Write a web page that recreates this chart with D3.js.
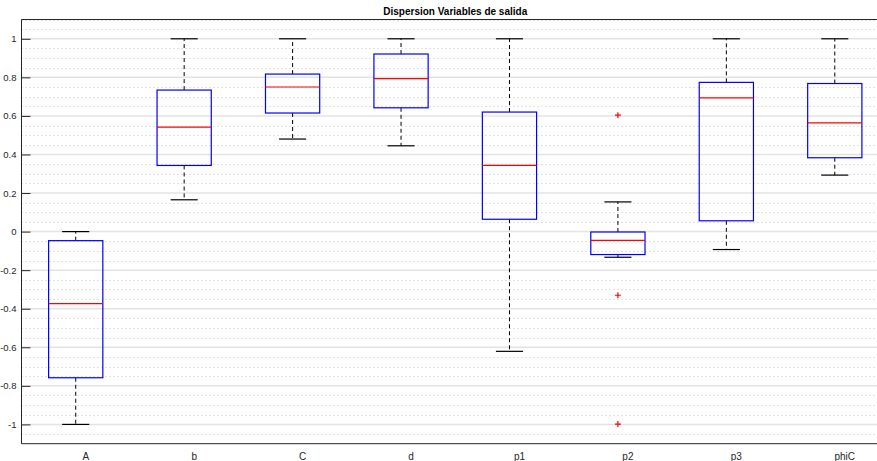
<!DOCTYPE html>
<html><head><meta charset="utf-8">
<script src="https://cdn.jsdelivr.net/npm/d3@7"></script>
<style>body{margin:0;background:#fff}svg{display:block}</style>
</head><body><svg id="c" width="877" height="461"></svg>
<script>
const categories = ["A","b","C","d","p1","p2","p3","phiC"];
const whiskerLow  = [-1.0, 0.165, 0.480, 0.445, -0.621, -0.133, -0.093, 0.293];
const q1          = [-0.758, 0.343, 0.615, 0.642, 0.064, -0.119, 0.056, 0.383];
const median      = [-0.374, 0.542, 0.750, 0.793, 0.343, -0.045, 0.694, 0.564];
const q3          = [-0.047, 0.734, 0.817, 0.921, 0.620, -0.002, 0.774, 0.768];
const whiskerHigh = [0.0, 1.0, 1.0, 1.0, 1.0, 0.154, 1.0, 1.0];
const outliers    = [[], [], [], [], [], [0.604, -0.330, -0.998], [], []];
const yTicks = [-1,-0.8,-0.6,-0.4,-0.2,0,0.2,0.4,0.6,0.8,1];
const yTickLabels = ["-1","-0.8","-0.6","-0.4","-0.2","0","0.2","0.4","0.6","0.8","1"];
const title = "Dispersion Variables de salida";

const svg = d3.select("#c");
const pLeft = 21.5, pRight = 889, pTop = 19.5, pBottom = 443.7;
const x = d3.scaleLinear().domain([0.5, 8.5]).range([pLeft, pRight]);
const y = d3.scaleLinear().domain([-1.1, 1.1]).range([pBottom, pTop]);
const font = "'Liberation Sans', Arial, Helvetica, sans-serif";

// minor dotted grid
const minor = d3.range(-1.05, 1.1, 0.05).map(v => +v.toFixed(2)).filter(v => Math.abs(Math.round(v*5) - v*5) > 1e-6);
svg.append("g").selectAll("line").data(minor).join("line")
  .attr("x1", pLeft).attr("x2", pRight)
  .attr("y1", d => Math.round(y(d)) + 0.5).attr("y2", d => Math.round(y(d)) + 0.5)
  .attr("stroke", "#c4c4c4").attr("stroke-width", 1).attr("stroke-dasharray", "1,3");
// major grid
svg.append("g").selectAll("line").data(yTicks).join("line")
  .attr("x1", pLeft).attr("x2", pRight)
  .attr("y1", d => y(d)).attr("y2", d => y(d))
  .attr("stroke", "#e3e3e3").attr("stroke-width", 1.5);

// axes frame
svg.append("line").attr("x1", pLeft).attr("x2", pRight).attr("y1", pTop).attr("y2", pTop).attr("stroke", "#262626").attr("stroke-width", 1);
svg.append("line").attr("x1", pLeft).attr("x2", pRight).attr("y1", pBottom).attr("y2", pBottom).attr("stroke", "#262626").attr("stroke-width", 1);

// y axis via d3.axisLeft
const yAxis = d3.axisLeft(y).tickValues(yTicks).tickFormat((d,i) => yTickLabels[i]).tickSizeInner(-9).tickSizeOuter(0).tickPadding(5);
const gy = svg.append("g").attr("transform", `translate(${pLeft},0)`).call(yAxis);
gy.select(".domain").attr("stroke", "#262626").attr("d", `M0,${pTop}V${pBottom}`);
gy.selectAll(".tick line").attr("stroke", "#262626");
gy.selectAll(".tick text").attr("fill", "#262626").attr("font-family", font).attr("font-size", 9.5);

// x axis labels
const xAxis = d3.axisBottom(x).tickValues(d3.range(1, 9)).tickFormat((d) => categories[d-1]).tickSize(0).tickPadding(9);
const gx = svg.append("g").attr("transform", `translate(0,${pBottom})`).call(xAxis);
gx.select(".domain").remove();
gx.selectAll(".tick text").attr("fill", "#262626").attr("font-family", font).attr("font-size", 10).attr("dx", 9.5);

// boxes
const data = categories.map((c, i) => ({c, i, pos: i + 1, lo: whiskerLow[i], q1: q1[i], med: median[i], q3: q3[i], hi: whiskerHigh[i], out: outliers[i]}));
const boxHalf = 0.25, capHalf = 0.125;
const g = svg.append("g");
data.forEach(d => {
  const cx = x(d.pos);
  g.append("line").attr("x1", cx).attr("x2", cx).attr("y1", y(d.q3)).attr("y2", y(d.hi))
    .attr("stroke", "#000").attr("stroke-width", 1).attr("stroke-dasharray", "4,3");
  g.append("line").attr("x1", cx).attr("x2", cx).attr("y1", y(d.q1)).attr("y2", y(d.lo))
    .attr("stroke", "#000").attr("stroke-width", 1).attr("stroke-dasharray", "4,3");
  [d.hi, d.lo].forEach(v => g.append("line")
    .attr("x1", x(d.pos - capHalf)).attr("x2", x(d.pos + capHalf))
    .attr("y1", y(v)).attr("y2", y(v)).attr("stroke", "#000").attr("stroke-width", 1.2));
  g.append("rect").attr("x", x(d.pos - boxHalf)).attr("width", x(d.pos + boxHalf) - x(d.pos - boxHalf))
    .attr("y", y(d.q3)).attr("height", y(d.q1) - y(d.q3))
    .attr("fill", "none").attr("stroke", "#0000ff").attr("stroke-width", 1.2);
  g.append("line").attr("x1", x(d.pos - boxHalf)).attr("x2", x(d.pos + boxHalf))
    .attr("y1", y(d.med)).attr("y2", y(d.med)).attr("stroke", "#ff0000").attr("stroke-width", 1.2);
  d.out.forEach(v => {
    const py = y(v);
    g.append("path").attr("d", `M${cx-3},${py}H${cx+3}M${cx},${py-3}V${py+3}`)
      .attr("stroke", "#ff0000").attr("stroke-width", 1.2).attr("fill", "none");
  });
});

// title
svg.append("text").attr("x", (pLeft + pRight) / 2).attr("y", 15).attr("text-anchor", "middle")
  .attr("font-family", font).attr("font-size", 10).attr("font-weight", "bold").attr("fill", "#000").text(title);
</script></body></html>
